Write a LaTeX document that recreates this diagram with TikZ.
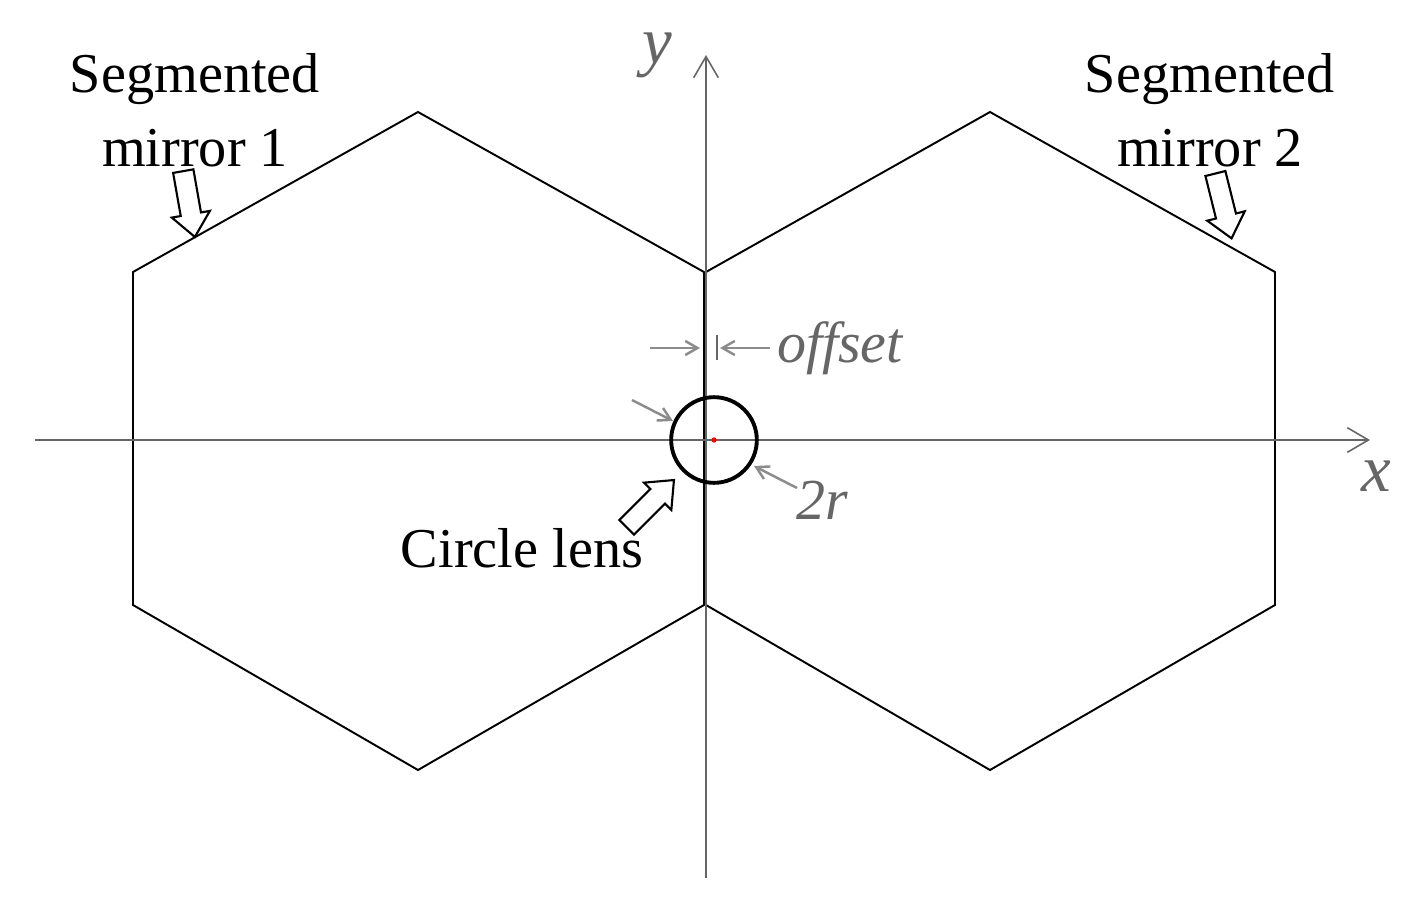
\documentclass[tikz,border=0pt]{standalone}
\usepackage{fontspec}
\setmainfont{Liberation Serif}
\usetikzlibrary{arrows.meta,shapes.arrows}
\begin{document}
\begin{tikzpicture}[x=0.01cm,y=-0.01cm,
  hexl/.style={draw=black,line width=0.55pt,line join=miter},
  axis/.style={draw=black!60,line width=0.45pt,-{Straight Barb[length=6pt,width=7pt]}},
  garrow/.style={draw=black!45,line width=0.7pt,-{Straight Barb[length=3.5pt,width=4pt]}},
  hollow/.style={single arrow,draw=black,line width=0.6pt,fill=white,minimum height=19pt,minimum width=11pt,single arrow head extend=2.2pt,inner sep=2.2pt,single arrow tip angle=80},
  lbl/.style={font=\fontsize{16}{16}\selectfont,align=center,inner sep=0pt},
  glbl/.style={font=\fontsize{16.5}{16.5}\selectfont\itshape,text=black!60,inner sep=0pt}]
\useasboundingbox (0,0) rectangle (1411,906);
\draw[hexl] (418,112)--(704,272)--(704,605)--(418,770)--(133,605)--(133,272)--cycle;
\draw[hexl] (990,112)--(1275,272)--(1275,605)--(990,770)--(706,605)--(706,272)--cycle;
\coordinate (xs) at (35,440); \coordinate (xe) at (1370,440);
\coordinate (ys) at (706,878); \coordinate (ye) at (706,55);
\draw[axis] (xs)--(xe);
\draw[axis] (ys)--(ye);
\node[glbl,font=\fontsize{19}{19}\selectfont\itshape] (ylab) at (657,55) {y};
\node[glbl,font=\fontsize{19}{19}\selectfont\itshape] (xlab) at (1376,476) {x};
\node[draw=black,line width=1.1pt,circle,minimum size=86pt*0.01/0.0352778,inner sep=0pt] (lens) at (714,440) {};
\node[circle,fill=red,minimum size=1.5pt,inner sep=0pt] (ctr) at (714,440) {};
\node[lbl] (m1) at (195,110) {Segmented\\[5pt]mirror 1};
\node[lbl] (m2) at (1210,110) {Segmented\\[5pt]mirror 2};
\node[hollow,rotate=-80] (a1) at (188,198) {};
\node[hollow,rotate=-76] (a2) at (1222,200) {};
\node[lbl] (cl) at (522,548) {Circle lens};
\node[hollow,rotate=45] (a3) at (646,508) {};
\node[glbl] (off) at (840,348) {offset};
\draw[black!60,line width=0.6pt] (717,335)--(717,360);
\coordinate (o1) at (650,348); \coordinate (o1e) at (700,348);
\coordinate (o2) at (770,348); \coordinate (o2e) at (720,348);
\draw[garrow] (o1)--(o1e);
\draw[garrow] (o2)--(o2e);
\coordinate (c1) at (632,400); \coordinate (c1e) at (673,421);
\draw[garrow] (c1)--(c1e);
\node[glbl] (tr) at (822,500) {2r};
\coordinate (c2) at (797,488); \coordinate (c2e) at (754,466);
\draw[garrow] (c2)--(c2e);
\end{tikzpicture}
\end{document}
